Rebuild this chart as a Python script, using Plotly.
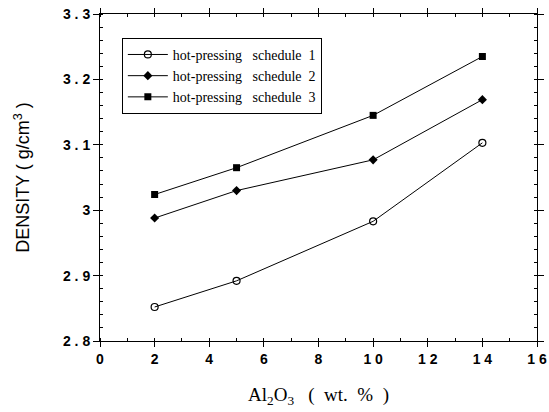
import plotly.graph_objects as go

x_vals = [2, 5, 10, 14]
schedule1 = [2.852, 2.892, 2.983, 3.103]
schedule2 = [2.988, 3.030, 3.077, 3.169]
schedule3 = [3.024, 3.065, 3.145, 3.235]
names = ["hot-pressing   schedule  1", "hot-pressing   schedule  2", "hot-pressing   schedule  3"]

x_tickvals = [0, 2, 4, 6, 8, 10, 12, 14, 16]
x_ticktext = ["0", "2", "4", "6", "8", "1 0", "1 2", "1 4", "1 6"]
y_tickvals = [2.8, 2.9, 3.0, 3.1, 3.2, 3.3]
y_ticktext = ["2 . 8", "2 . 9", "3", "3 . 1", "3 . 2", "3 . 3"]

fig = go.Figure()
fig.add_trace(go.Scatter(x=x_vals, y=schedule1, name=names[0], mode="lines+markers",
                         line=dict(color="black", width=1),
                         marker=dict(symbol="circle-open", size=7, color="black", line=dict(width=1.2))))
fig.add_trace(go.Scatter(x=x_vals, y=schedule2, name=names[1], mode="lines+markers",
                         line=dict(color="black", width=1),
                         marker=dict(symbol="diamond", size=7, color="black")))
fig.add_trace(go.Scatter(x=x_vals, y=schedule3, name=names[2], mode="lines+markers",
                         line=dict(color="black", width=1),
                         marker=dict(symbol="square", size=7, color="black")))

tickfont = dict(family="Liberation Sans, Arial, sans-serif", size=14, color="black", weight="bold")

fig.update_layout(
    width=549, height=412,
    margin=dict(l=100, r=12, t=14, b=71),
    paper_bgcolor="white", plot_bgcolor="white",
    showlegend=True,
    legend=dict(x=0.05, y=0.927, xanchor="left", yanchor="top",
                bordercolor="black", borderwidth=1, bgcolor="white",
                font=dict(family="Liberation Serif, Times New Roman, serif", size=14, color="black"),
                tracegroupgap=0, itemwidth=40),
    xaxis=dict(range=[0, 16], tickvals=x_tickvals, ticktext=x_ticktext, automargin=False,
               ticklabeloverflow="allow",
               showgrid=False, zeroline=False, showline=True, linecolor="black", linewidth=1,
               mirror="ticks", ticks="outside", ticklen=5, tickcolor="black",
               minor=dict(dtick=1, ticks="inside", ticklen=3, tickcolor="black"),
               tickfont=tickfont,
               title=dict(text="Al<sub>2</sub>O<sub>3</sub>   (  wt.  %  )",
                          font=dict(family="Liberation Serif, Times New Roman, serif", size=19, color="black"),
                          standoff=21)),
    yaxis=dict(range=[2.8, 3.3], tickvals=y_tickvals, ticktext=y_ticktext, automargin=False,
               ticklabeloverflow="allow",
               showgrid=False, zeroline=False, showline=True, linecolor="black", linewidth=1,
               mirror="ticks", ticks="outside", ticklen=6, tickcolor="black",
               minor=dict(dtick=0.02, ticks="inside", ticklen=3, tickcolor="black"),
               tickfont=tickfont,
               title=dict(text="DENSITY ( g/cm<sup>3</sup> )",
                          font=dict(family="Liberation Sans, Arial, sans-serif", size=18, color="black"),
                          standoff=28)),
)

fig.write_html(
    "out.html",
    config={"displayModeBar": False},
    post_script="document.body.style.margin='0';document.body.style.overflow='hidden';document.documentElement.style.overflow='hidden';",
)
